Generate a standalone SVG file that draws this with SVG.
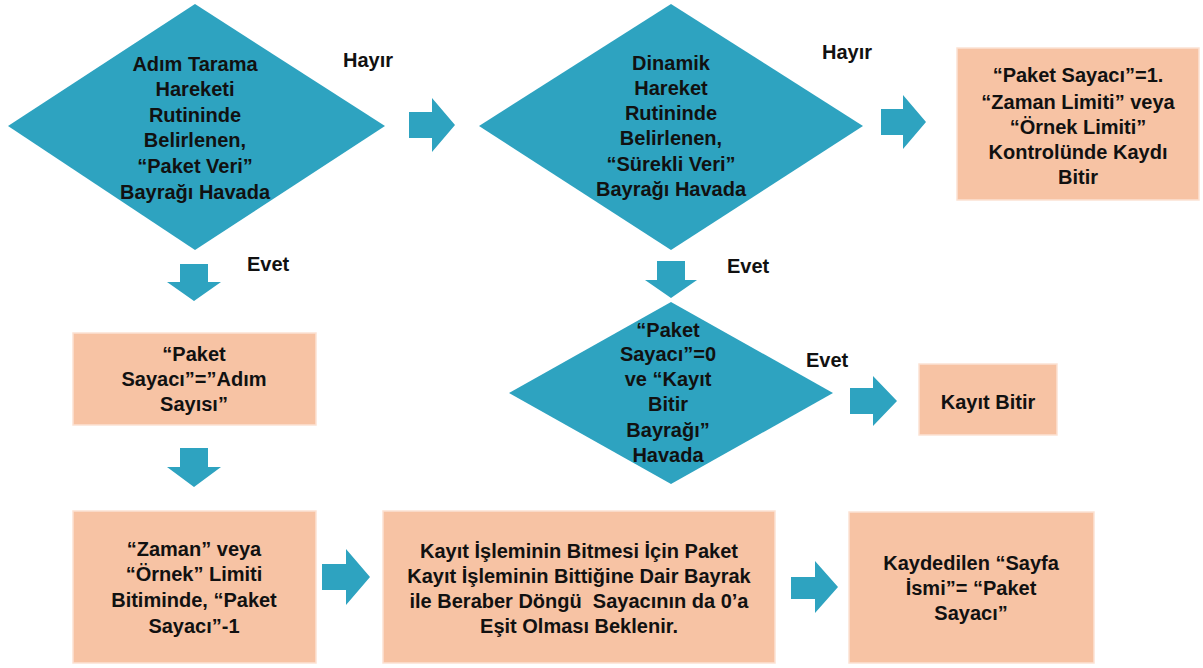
<svg xmlns="http://www.w3.org/2000/svg" width="1203" height="668" viewBox="0 0 1203 668">
<style>
.dia{fill:#2EA3C0}
.box{fill:#F7C3A4;stroke:#FCE2D3;stroke-width:1.5}
.arr{fill:#2EA3C0}
text{font-family:"Liberation Sans",Arial,sans-serif;font-weight:bold;font-size:20px;fill:#111;text-anchor:middle}
.lbl{text-anchor:start}
</style>
<rect width="1203" height="668" fill="#fff"/>
<g id="connectors">
<polygon class="arr" points="409,112 432,112 432,98 455,125 432,152 432,138 409,138"/>
<polygon class="arr" points="881,109 903,109 903,95 926,122 903,149 903,135 881,135"/>
<polygon class="arr" points="850,388 873,388 873,376 897,401 873,426 873,414 850,414"/>
<polygon class="arr" points="322,564 346,564 346,549 370,577 346,605 346,590 322,590"/>
<polygon class="arr" points="791,577 815,577 815,561 838,587 815,613 815,599 791,599"/>
<polygon class="arr" points="180,264 208,264 208,282 221,282 194,301 167,282 180,282"/>
<polygon class="arr" points="180,448 208,448 208,467 221,467 194,487 167,467 180,467"/>
<polygon class="arr" points="657,261 685,261 685,280 697,280 671,298 645,280 657,280"/>
<text class="lbl" x="343" y="67">Hayır</text>
<text class="lbl" x="822" y="59">Hayır</text>
<text class="lbl" x="247" y="271">Evet</text>
<text class="lbl" x="727" y="273">Evet</text>
<text class="lbl" x="806" y="367">Evet</text>
</g>
<g id="d1">
<polygon class="dia" points="195,4 385,126 195,250 8,126"/>
<text x="195" y="71">Adım Tarama</text>
<text x="195" y="96">Hareketi</text>
<text x="195" y="122">Rutininde</text>
<text x="195" y="147">Belirlenen,</text>
<text x="195" y="173">“Paket Veri”</text>
<text x="195" y="199">Bayrağı Havada</text>
</g>
<g id="d2">
<polygon class="dia" points="671,4 863,126 671,250 479,126"/>
<text x="671" y="70">Dinamik</text>
<text x="671" y="95">Hareket</text>
<text x="671" y="120">Rutininde</text>
<text x="671" y="145">Belirlenen,</text>
<text x="671" y="171">“Sürekli Veri”</text>
<text x="671" y="196">Bayrağı Havada</text>
</g>
<g id="b1">
<rect class="box" x="957" y="48" width="242" height="152"/>
<text x="1078" y="82">“Paket Sayacı”=1.</text>
<text x="1078" y="109">“Zaman Limiti” veya</text>
<text x="1078" y="134">“Örnek Limiti”</text>
<text x="1078" y="159">Kontrolünde Kaydı</text>
<text x="1078" y="184">Bitir</text>
</g>
<g id="b2">
<rect class="box" x="73" y="333" width="243" height="92"/>
<text x="194" y="361">“Paket</text>
<text x="194" y="386">Sayacı”=”Adım</text>
<text x="194" y="411">Sayısı”</text>
</g>
<g id="d3">
<polygon class="dia" points="671,302 833,393 671,484 509,393"/>
<text x="668" y="337">“Paket</text>
<text x="668" y="361">Sayacı”=0</text>
<text x="668" y="386">ve “Kayıt</text>
<text x="668" y="411">Bitir</text>
<text x="668" y="437">Bayrağı”</text>
<text x="668" y="462">Havada</text>
</g>
<g id="b3">
<rect class="box" x="919" y="364" width="138" height="71"/>
<text x="988" y="409">Kayıt Bitir</text>
</g>
<g id="b4">
<rect class="box" x="73" y="511" width="243" height="152"/>
<text x="194" y="556">“Zaman” veya</text>
<text x="194" y="581">“Örnek” Limiti</text>
<text x="194" y="607">Bitiminde, “Paket</text>
<text x="194" y="633">Sayacı”-1</text>
</g>
<g id="b5">
<rect class="box" x="383" y="511" width="392" height="152"/>
<text x="579" y="558">Kayıt İşleminin Bitmesi İçin Paket</text>
<text x="579" y="583">Kayıt İşleminin Bittiğine Dair Bayrak</text>
<text x="579" y="608" xml:space="preserve">ile Beraber Döngü  Sayacının da 0’a</text>
<text x="579" y="633">Eşit Olması Beklenir.</text>
</g>
<g id="b6">
<rect class="box" x="849" y="512" width="245" height="151"/>
<text x="971" y="570">Kaydedilen “Sayfa</text>
<text x="971" y="595">İsmi”= “Paket</text>
<text x="971" y="620">Sayacı”</text>
</g>
</svg>
